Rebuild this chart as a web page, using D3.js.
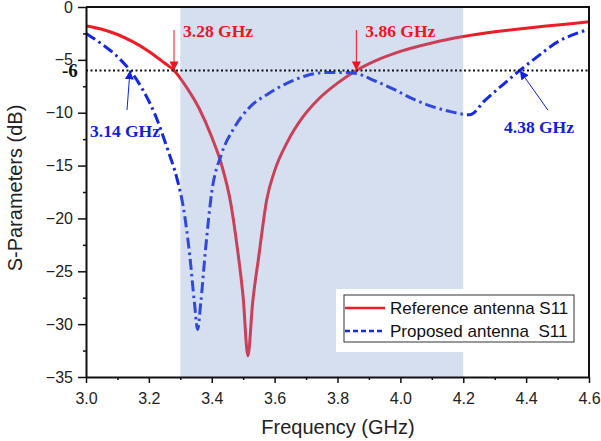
<!DOCTYPE html>
<html>
<head>
<meta charset="utf-8">
<script src="https://cdn.jsdelivr.net/npm/d3@7"></script>
<style>
  body { margin: 0; background: #fff; }
  svg { display: block; font-family: Arial, "Liberation Sans", sans-serif; }
</style>
</head>
<body>
<svg id="svg" width="601" height="441"></svg>
<script>
// frequency (GHz) / S11 (dB)
var refFreq = [3.00, 3.05, 3.10, 3.15, 3.20, 3.25, 3.28, 3.32, 3.36, 3.40, 3.43, 3.46, 3.48, 3.50, 3.515,
  3.53, 3.55, 3.575, 3.60, 3.64, 3.69, 3.74, 3.80, 3.86, 3.92, 4.00, 4.10, 4.20, 4.30, 4.40, 4.50, 4.60];
var refS11 = [-1.8, -2.1, -2.6, -3.3, -4.2, -5.3, -6.0, -7.6, -9.6, -12.3, -14.8, -18.5, -22.5, -27.5, -33,
  -28, -23.5, -18.2, -15.5, -12.8, -10.4, -8.7, -7.2, -6.0, -5.1, -4.2, -3.4, -2.8, -2.35, -2.0, -1.7, -1.4];

var propFreq = [3.00, 3.05, 3.10, 3.14, 3.18, 3.22, 3.26, 3.29, 3.31, 3.33, 3.345, 3.355, 3.365, 3.38, 3.40,
  3.43, 3.47, 3.52, 3.58, 3.64, 3.70, 3.76, 3.82, 3.86, 3.92, 3.98, 4.04, 4.10, 4.16, 4.22, 4.27, 4.32,
  4.38, 4.44, 4.50, 4.56, 4.60];
var propS11 = [-2.5, -3.5, -4.7, -6.0, -7.8, -10.2, -13.5, -16.3, -19, -23.5, -28, -30.5, -28, -23, -17.5,
  -14, -11.5, -9.5, -8.2, -7.2, -6.5, -6.2, -6.2, -6.3, -7.0, -7.8, -8.7, -9.4, -9.9, -10.2, -8.8, -7.5,
  -6.0, -4.6, -3.3, -2.5, -2.1];

var xTicks = [3.0, 3.2, 3.4, 3.6, 3.8, 4.0, 4.2, 4.4, 4.6];
var yTicks = [0, -5, -10, -15, -20, -25, -30, -35];
var band = [3.3, 4.2];
var threshold = -6;
var marks = [
  { f: 3.28, label: "3.28 GHz", color: "#f0141e", side: "top" },
  { f: 3.86, label: "3.86 GHz", color: "#f0141e", side: "top" },
  { f: 3.14, label: "3.14 GHz", color: "#1020e0", side: "left" },
  { f: 4.38, label: "4.38 GHz", color: "#1020e0", side: "right" }
];
var legendNames = ["Reference antenna S11", "Proposed antenna  S11"];

var svg = d3.select("#svg");
var plotL = 86, plotR = 589, plotT = 7, plotB = 377;

var x = d3.scaleLinear().domain([3.0, 4.6]).range([plotL, plotR]);
var y = d3.scaleLinear().domain([0, -35]).range([plotT, plotB]);

var defs = svg.append("defs");
["red", "blue"].forEach(function (k) {
  defs.append("marker")
    .attr("id", "arrow-" + k)
    .attr("viewBox", "0 0 10 10")
    .attr("refX", 10).attr("refY", 5)
    .attr("markerWidth", 9).attr("markerHeight", 9)
    .attr("markerUnits", "userSpaceOnUse")
    .attr("orient", "auto")
    .append("path")
    .attr("d", "M0,0 L10,5 L0,10 z")
    .attr("fill", k == "red" ? "#f0141e" : "#1020e0");
});

var line = d3.line()
  .x(function (d) { return x(d[0]); })
  .y(function (d) { return y(d[1]); })
  .curve(d3.curveMonotoneX);

// curves
svg.append("path")
  .datum(d3.zip(refFreq, refS11))
  .attr("d", line)
  .attr("fill", "none")
  .attr("stroke", "#ee1c25")
  .attr("stroke-width", 3);

svg.append("path")
  .datum(d3.zip(propFreq, propS11))
  .attr("d", line)
  .attr("fill", "none")
  .attr("stroke", "#1428e6")
  .attr("stroke-width", 3)
  .attr("stroke-dasharray", "11,4,2.5,4");

// shaded band over the curves
svg.append("rect")
  .attr("x", x(band[0]))
  .attr("y", plotT)
  .attr("width", x(band[1]) - x(band[0]))
  .attr("height", plotB - plotT)
  .attr("fill", "rgb(118,148,205)")
  .attr("opacity", 0.3);

// -6 dB dotted line
svg.append("line")
  .attr("x1", plotL).attr("x2", plotR)
  .attr("y1", y(threshold)).attr("y2", y(threshold))
  .attr("stroke", "#111")
  .attr("stroke-width", 2)
  .attr("stroke-dasharray", "2,2.5");

svg.append("text")
  .attr("x", 62).attr("y", y(threshold) + 7)
  .attr("font-family", "'Liberation Serif', 'Times New Roman', serif")
  .attr("font-weight", "bold")
  .attr("font-size", 19)
  .attr("fill", "#111")
  .text("-6");

// frequency annotations
marks.forEach(function (m) {
  var px = x(m.f), py = y(threshold);
  var k = m.color == "#f0141e" ? "red" : "blue";
  var a = svg.append("line")
    .attr("stroke", m.color)
    .attr("stroke-width", 1)
    .attr("marker-end", "url(#arrow-" + k + ")")
    .attr("x2", px).attr("y2", py);
  var t = svg.append("text")
    .attr("font-family", "'Liberation Serif', 'Times New Roman', serif")
    .attr("font-weight", "bold")
    .attr("font-size", 17.5)
    .attr("fill", m.color)
    .text(m.label);
  if (m.side == "top") {
    a.attr("x1", px).attr("y1", 30);
    t.attr("x", px + 9).attr("y", 37);
  } else if (m.side == "left") {
    a.attr("x1", px - 3).attr("y1", 110);
    t.attr("x", 90).attr("y", 137);
  } else {
    a.attr("x1", px + 28).attr("y1", 110);
    t.attr("x", 504).attr("y", 133);
  }
});

// axes
var xAxis = svg.append("g")
  .attr("transform", "translate(0," + plotB + ")")
  .call(d3.axisBottom(x).tickValues(xTicks).tickFormat(d3.format(".1f")).tickSize(6).tickSizeOuter(0));
svg.append("g")
  .attr("transform", "translate(0," + plotB + ")")
  .call(d3.axisBottom(x).tickValues(d3.range(3.1, 4.6, 0.2)).tickFormat("").tickSize(3).tickSizeOuter(0))
  .select(".domain").remove();

var yAxis = svg.append("g")
  .attr("transform", "translate(" + plotL + ",0)")
  .call(d3.axisLeft(y).tickValues(yTicks).tickSize(8).tickSizeOuter(0));
svg.append("g")
  .attr("transform", "translate(" + plotL + ",0)")
  .call(d3.axisLeft(y).tickValues(d3.range(-2.5, -35, -5)).tickFormat("").tickSize(3).tickSizeOuter(0))
  .select(".domain").remove();

svg.selectAll(".tick line").attr("stroke", "#111").attr("stroke-width", 1.5);
svg.selectAll(".domain").attr("stroke", "#111").attr("stroke-width", 2);
xAxis.selectAll("text").attr("font-size", 16).attr("fill", "#222").attr("y", 16)
  .attr("font-family", "Arial, 'Liberation Sans', sans-serif");
yAxis.selectAll("text").attr("font-size", 16).attr("fill", "#222").attr("x", -13)
  .attr("font-family", "Arial, 'Liberation Sans', sans-serif");

// frame top and right
svg.append("path")
  .attr("d", "M" + plotL + "," + plotT + "H" + plotR + "V" + plotB)
  .attr("fill", "none")
  .attr("stroke", "#111")
  .attr("stroke-width", 2);

// axis titles
svg.append("text")
  .attr("x", 338).attr("y", 434)
  .attr("text-anchor", "middle")
  .attr("font-size", 20)
  .attr("fill", "#222")
  .text("Frequency (GHz)");

svg.append("text")
  .attr("transform", "translate(22,188) rotate(-90)")
  .attr("text-anchor", "middle")
  .attr("font-size", 20)
  .attr("fill", "#222")
  .text("S-Parameters (dB)");

// legend
var lg = svg.append("g");
lg.append("rect")
  .attr("x", 336).attr("y", 289).attr("width", 129).attr("height", 63)
  .attr("fill", "#fff");
lg.append("rect")
  .attr("x", 344).attr("y", 295).attr("width", 230).attr("height", 47)
  .attr("fill", "#fff").attr("stroke", "#333").attr("stroke-width", 1);
var legendColors = ["#ee1c25", "#1428e6"];
var legendDash = [null, "5,3"];
legendNames.forEach(function (name, i) {
  var ly = 308 + i * 23;
  lg.append("line")
    .attr("x1", 345).attr("x2", 385)
    .attr("y1", ly).attr("y2", ly)
    .attr("stroke", legendColors[i])
    .attr("stroke-width", 2.5)
    .attr("stroke-dasharray", legendDash[i]);
  lg.append("text")
    .attr("x", 390).attr("y", ly + 5.5)
    .attr("font-size", 17)
    .attr("fill", "#111")
    .style("white-space", "pre")
    .text(name);
});
</script>
</body>
</html>
